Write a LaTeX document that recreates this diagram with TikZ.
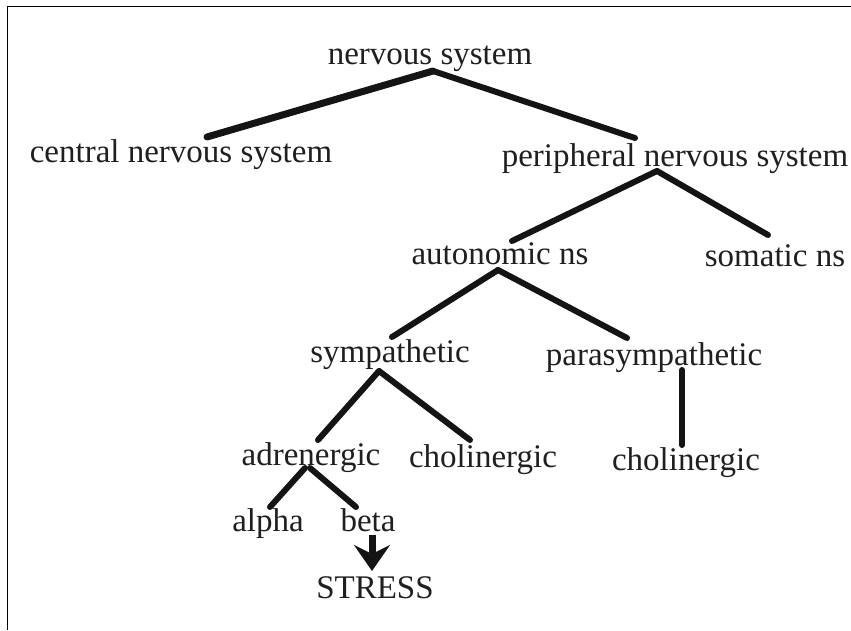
\documentclass[tikz,border=0pt]{standalone}
\usepackage{fontspec}
\setmainfont{Liberation Serif}
\usetikzlibrary{positioning,arrows.meta}

\begin{document}
\begin{tikzpicture}[x=1pt, y=1pt,
    term/.style={font=\fontsize{33}{40}\selectfont, text=black!88, inner sep=0pt},
    branch/.style={line width=6pt, line cap=round, black!92},
    stressarrow/.style={line width=7pt, black!92, arrows={-Stealth[length=26pt, width=36pt, inset=9pt]}}]
        \useasboundingbox (0,0) rectangle (851,630);
        \draw[line width=1pt] (7,0) -- (7,623) -- (851,623);
        \node[term, anchor=base] (ns) at (430,565) {nervous system};
        \node[term, below=98pt of ns.base, xshift=-249pt, anchor=base] (cns) {central nervous system};
        \node[term, below=102pt of ns.base, xshift=245pt, anchor=base] (pns) {peripheral nervous system};
        \node[term, below=98pt of pns.base, xshift=-175pt, anchor=base] (ans) {autonomic ns};
        \node[term, below=100pt of pns.base, xshift=100pt, anchor=base] (sns) {somatic ns};
        \node[term, below=97pt of ans.base, xshift=-110pt, anchor=base] (sym) {sympathetic};
        \node[term, below=100pt of ans.base, xshift=154pt, anchor=base] (para) {parasympathetic};
        \node[term, below=103pt of sym.base, xshift=-79pt, anchor=base] (adr) {adrenergic};
        \node[term, below=105pt of sym.base, xshift=93pt, anchor=base] (cho) {cholinergic};
        \node[term, below=105pt of para.base, xshift=32pt, anchor=base] (pcho) {cholinergic};
        \node[term, below=66pt of adr.base, xshift=-43pt, anchor=base] (alpha) {alpha};
        \node[term, below=66pt of adr.base, xshift=57pt, anchor=base] (beta) {beta};
        \node[term, below=67pt of beta.base, xshift=7pt, anchor=base] (stress) {STRESS};
        % tree branches
        \draw[branch, line width=7pt] ([shift={(3pt,-6pt)}]ns.base) -- ([shift={(26pt,26pt)}]cns.base);
        \draw[branch] ([shift={(3pt,-6pt)}]ns.base) -- ([shift={(-40pt,29pt)}]pns.base);
        \draw[branch] ([shift={(-18pt,-4pt)}]pns.base) -- ([shift={(12pt,24pt)}]ans.base);
        \draw[branch] ([shift={(-18pt,-4pt)}]pns.base) -- ([shift={(-7pt,32pt)}]sns.base);
        \draw[branch] ([shift={(-2pt,-5pt)}]ans.base) -- ([shift={(2pt,25pt)}]sym.base);
        \draw[branch] ([shift={(-2pt,-5pt)}]ans.base) -- ([shift={(-27pt,27pt)}]para.base);
        \draw[branch] ([shift={(-11pt,-9pt)}]sym.base) -- ([shift={(7pt,25pt)}]adr.base);
        \draw[branch] ([shift={(-11pt,-9pt)}]sym.base) -- ([shift={(-13pt,27pt)}]cho.base);
        \draw[branch] ([shift={(28pt,-5pt)}]para.base) -- ([shift={(-4pt,25pt)}]pcho.base);
        \draw[branch] ([shift={(-6pt,-3pt)}]adr.base) -- ([shift={(2pt,24pt)}]alpha.base);
        \draw[branch] ([shift={(-1pt,-3pt)}]adr.base) -- ([shift={(-12pt,24pt)}]beta.base);
        \draw[stressarrow] ([shift={(4pt,-4pt)}]beta.base) -- ([shift={(-3pt,27pt)}]stress.base);
    \end{tikzpicture}
\end{document}
